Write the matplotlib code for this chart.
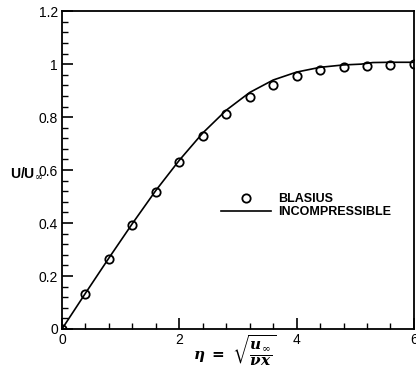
import numpy as np
import matplotlib
matplotlib.use("Agg")
import matplotlib.pyplot as plt
from matplotlib.ticker import MultipleLocator, FuncFormatter

# Blasius similarity solution (circles)
eta_blasius = [0.0, 0.4, 0.8, 1.2, 1.6, 2.0, 2.4, 2.8, 3.2, 3.6, 4.0, 4.4, 4.8, 5.2, 5.6, 6.0]
u_blasius = [0.0, 0.133, 0.265, 0.394, 0.517, 0.630, 0.729, 0.812, 0.876, 0.923, 0.956, 0.976, 0.988, 0.994, 0.998, 0.999]

# incompressible computation (line)
eta_incomp = [0.0, 0.4, 0.8, 1.2, 1.6, 2.0, 2.4, 2.8, 3.2, 3.6, 4.0, 4.4, 4.8, 5.1, 5.3, 5.6, 6.0]
u_incomp = [0.0, 0.135, 0.268, 0.398, 0.523, 0.637, 0.740, 0.826, 0.893, 0.940, 0.970, 0.988, 0.997, 1.000, 1.006, 1.007, 1.007]

plt.rcParams["font.family"] = "Liberation Sans"
plt.rcParams["mathtext.fontset"] = "dejavuserif"

fig = plt.figure(figsize=(4.16, 3.72), dpi=100)
ax = fig.add_axes([0.149, 0.1156, 0.846, 0.8544])

ax.plot(eta_blasius, u_blasius, 'o', mfc='none', mec='black', ms=6, mew=1.3,
        label='BLASIUS', zorder=3)
ax.plot(eta_incomp, u_incomp, '-k', lw=1.2, label='INCOMPRESSIBLE')

ax.set_xlim(0, 6)
ax.set_ylim(0, 1.2)
ax.xaxis.set_major_locator(MultipleLocator(2))
ax.xaxis.set_minor_locator(MultipleLocator(0.4))
ax.yaxis.set_major_locator(MultipleLocator(0.2))
ax.yaxis.set_minor_locator(MultipleLocator(0.04))
ax.yaxis.set_major_formatter(FuncFormatter(lambda v, p: ('%.1f' % v).rstrip('0').rstrip('.') if v != 0 else '0'))
ax.xaxis.set_major_formatter(FuncFormatter(lambda v, p: '%d' % v))

ax.tick_params(which='both', direction='in', top=False, right=False,
               labelsize=10, width=1.2, pad=3)
ax.tick_params(which='major', length=8)
ax.tick_params(which='minor', length=4, width=1)
for s in ax.spines.values():
    s.set_linewidth(1.3)

fig.text(0.565, 0.058,
         r'$\mathbfit{\eta}\ \mathbf{=}\ \sqrt{\dfrac{\mathbfit{u}_{\infty}}{\mathbfit{\nu x}}}$',
         fontsize=11, ha='center', va='center')
fig.text(0.025, 0.535, r'U/U$_{\infty}$', fontsize=10, fontweight='bold', va='center')

leg = ax.legend(loc='upper left', bbox_to_anchor=(0.42, 0.462), frameon=False,
                prop={'weight': 'bold', 'size': 9}, handlelength=4,
                labelspacing=0.05, handletextpad=0.6)

fig.savefig("out.png", dpi=100)
